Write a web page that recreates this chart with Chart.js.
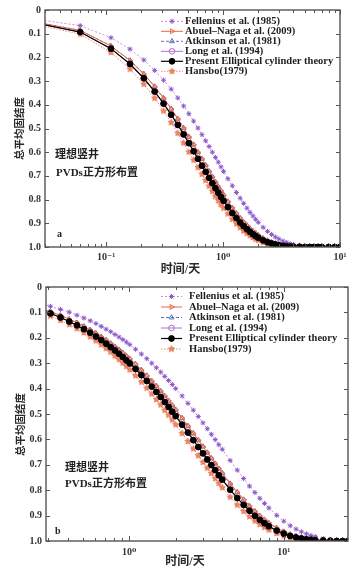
<!DOCTYPE html>
<html><head><meta charset="utf-8">
<script src="https://cdn.jsdelivr.net/npm/chart.js@4.4.0/dist/chart.umd.min.js"></script>
<style>
html,body{margin:0;padding:0;background:#fff;}
body{width:362px;height:576px;position:relative;overflow:hidden;}
canvas{position:absolute;left:0;}
#ca{top:0;}
#cb{top:276px;}
</style></head><body>
<canvas id="ca" width="362" height="280"></canvas>
<canvas id="cb" width="362" height="300"></canvas>
<script>
// ---------------- data ----------------
const seriesLabels = ['Fellenius et al. (1985)', 'Abuel\u2013Naga et al. (2009)', 'Atkinson et al. (1981)', 'Long et al. (1994)', 'Present Elliptical cylinder theory', 'Hansbo(1979)'];

const yTickValues = [0, 0.1, 0.2, 0.3, 0.4, 0.5, 0.6, 0.7, 0.8, 0.9, 1.0];
const yTickLabels = ['0', '0.1', '0.2', '0.3', '0.4', '0.5', '0.6', '0.7', '0.8', '0.9', '1.0'];

// chart a
const xTicksA = [0.1, 1, 10];
const xTickLabelsA = ['10\u207B\u00B9', '10\u2070', '10\u00B9'];
const xMinorA = [0.03, 0.04, 0.05, 0.06, 0.07, 0.08, 0.09, 0.2, 0.3, 0.4, 0.5, 0.6, 0.7, 0.8, 0.9, 2, 3, 4, 5, 6, 7, 8, 9];
const timeA = [0.01, 0.06, 0.11, 0.16, 0.21, 0.26, 0.31, 0.36, 0.41, 0.46, 0.51, 0.56, 0.61, 0.66, 0.71, 0.76, 0.81, 0.86, 0.91, 0.96, 1.01, 1.1, 1.2, 1.3, 1.4, 1.5, 1.6, 1.7, 1.8, 1.9, 2.0, 2.2, 2.4, 2.6, 2.8, 3.0, 3.25, 3.5, 3.75, 4, 4.5, 5, 5.5, 6, 6.5, 7, 8, 9, 10];
const felleniusA = [0.011, 0.066, 0.117, 0.165, 0.211, 0.255, 0.296, 0.334, 0.371, 0.405, 0.438, 0.469, 0.498, 0.526, 0.552, 0.576, 0.600, 0.622, 0.642, 0.662, 0.681, 0.712, 0.742, 0.770, 0.794, 0.816, 0.836, 0.854, 0.869, 0.883, 0.896, 0.917, 0.934, 0.947, 0.958, 0.966, 0.975, 0.981, 0.986, 0.989, 0.994, 0.997, 0.998, 0.999, 0.999, 1.000, 1.000, 1.000, 1.000];
const abuelA = [0.015, 0.086, 0.152, 0.213, 0.270, 0.323, 0.372, 0.417, 0.459, 0.498, 0.535, 0.568, 0.600, 0.628, 0.655, 0.680, 0.703, 0.725, 0.745, 0.763, 0.780, 0.808, 0.835, 0.858, 0.878, 0.895, 0.909, 0.922, 0.933, 0.942, 0.950, 0.963, 0.973, 0.980, 0.985, 0.989, 0.992, 0.995, 0.996, 0.998, 0.999, 0.999, 1.000, 1.000, 1.000, 1.000, 1.000, 1.000, 1.000];
const atkinsonA = [0.015, 0.086, 0.152, 0.213, 0.270, 0.323, 0.372, 0.417, 0.459, 0.498, 0.535, 0.568, 0.600, 0.628, 0.655, 0.680, 0.703, 0.725, 0.745, 0.763, 0.780, 0.808, 0.835, 0.858, 0.878, 0.895, 0.909, 0.922, 0.933, 0.942, 0.950, 0.963, 0.973, 0.980, 0.985, 0.989, 0.992, 0.995, 0.996, 0.998, 0.999, 0.999, 1.000, 1.000, 1.000, 1.000, 1.000, 1.000, 1.000];
const longA = [0.016, 0.093, 0.163, 0.228, 0.288, 0.344, 0.395, 0.442, 0.485, 0.525, 0.562, 0.596, 0.628, 0.657, 0.683, 0.708, 0.731, 0.752, 0.771, 0.789, 0.805, 0.832, 0.857, 0.878, 0.897, 0.912, 0.925, 0.936, 0.946, 0.954, 0.961, 0.972, 0.980, 0.985, 0.989, 0.992, 0.995, 0.997, 0.998, 0.999, 0.999, 1.000, 1.000, 1.000, 1.000, 1.000, 1.000, 1.000, 1.000];
const presentA = [0.016, 0.093, 0.163, 0.228, 0.288, 0.344, 0.395, 0.442, 0.485, 0.525, 0.562, 0.596, 0.628, 0.657, 0.683, 0.708, 0.731, 0.752, 0.771, 0.789, 0.805, 0.832, 0.857, 0.878, 0.897, 0.912, 0.925, 0.936, 0.946, 0.954, 0.961, 0.972, 0.980, 0.985, 0.989, 0.992, 0.995, 0.997, 0.998, 0.999, 0.999, 1.000, 1.000, 1.000, 1.000, 1.000, 1.000, 1.000, 1.000];
const hansboA = [0.018, 0.102, 0.179, 0.249, 0.313, 0.372, 0.426, 0.475, 0.520, 0.561, 0.599, 0.633, 0.664, 0.693, 0.719, 0.743, 0.765, 0.786, 0.804, 0.821, 0.836, 0.860, 0.883, 0.902, 0.918, 0.932, 0.943, 0.952, 0.960, 0.967, 0.972, 0.981, 0.986, 0.991, 0.993, 0.995, 0.997, 0.998, 0.999, 0.999, 1.000, 1.000, 1.000, 1.000, 1.000, 1.000, 1.000, 1.000, 1.000];

// chart b
const xTicksB = [1, 10];
const xTickLabelsB = ['10\u2070', '10\u00B9'];
const xMinorB = [0.3, 0.4, 0.5, 0.6, 0.7, 0.8, 0.9, 2, 3, 4, 5, 6, 7, 8, 9, 20];
const timeB = [0.21, 0.26, 0.31, 0.36, 0.41, 0.46, 0.51, 0.56, 0.61, 0.66, 0.71, 0.76, 0.81, 0.86, 0.91, 0.96, 1.01, 1.1, 1.2, 1.3, 1.4, 1.5, 1.6, 1.7, 1.8, 1.9, 2.0, 2.2, 2.4, 2.6, 2.8, 3.0, 3.2, 3.4, 3.6, 3.8, 4.0, 4.5, 5, 5.5, 6, 6.5, 7, 7.5, 8, 9, 10, 11, 12, 13, 14, 15, 16, 18, 20, 22, 24, 26];
const felleniusB = [0.052, 0.064, 0.076, 0.088, 0.099, 0.111, 0.122, 0.133, 0.144, 0.155, 0.166, 0.176, 0.187, 0.197, 0.207, 0.217, 0.227, 0.245, 0.264, 0.282, 0.300, 0.318, 0.335, 0.352, 0.368, 0.384, 0.400, 0.429, 0.458, 0.485, 0.510, 0.535, 0.558, 0.580, 0.601, 0.621, 0.639, 0.683, 0.721, 0.754, 0.784, 0.809, 0.832, 0.852, 0.870, 0.899, 0.922, 0.940, 0.953, 0.964, 0.972, 0.978, 0.983, 0.990, 0.994, 0.996, 0.998, 0.999];
const abuelB = [0.067, 0.082, 0.097, 0.112, 0.127, 0.141, 0.155, 0.169, 0.182, 0.196, 0.209, 0.222, 0.235, 0.247, 0.259, 0.272, 0.283, 0.304, 0.327, 0.349, 0.370, 0.390, 0.410, 0.429, 0.448, 0.466, 0.483, 0.516, 0.547, 0.576, 0.603, 0.628, 0.652, 0.674, 0.695, 0.715, 0.733, 0.774, 0.808, 0.837, 0.862, 0.883, 0.901, 0.916, 0.929, 0.949, 0.963, 0.974, 0.981, 0.986, 0.990, 0.993, 0.995, 0.997, 0.999, 0.999, 1.000, 1.000];
const atkinsonB = [0.067, 0.082, 0.097, 0.112, 0.127, 0.141, 0.155, 0.169, 0.182, 0.196, 0.209, 0.222, 0.235, 0.247, 0.259, 0.272, 0.283, 0.304, 0.327, 0.349, 0.370, 0.390, 0.410, 0.429, 0.448, 0.466, 0.483, 0.516, 0.547, 0.576, 0.603, 0.628, 0.652, 0.674, 0.695, 0.715, 0.733, 0.774, 0.808, 0.837, 0.862, 0.883, 0.901, 0.916, 0.929, 0.949, 0.963, 0.974, 0.981, 0.986, 0.990, 0.993, 0.995, 0.997, 0.999, 0.999, 1.000, 1.000];
const longB = [0.072, 0.088, 0.104, 0.120, 0.136, 0.151, 0.166, 0.180, 0.195, 0.209, 0.223, 0.237, 0.250, 0.263, 0.276, 0.289, 0.301, 0.323, 0.347, 0.370, 0.392, 0.413, 0.433, 0.453, 0.472, 0.491, 0.508, 0.542, 0.573, 0.603, 0.630, 0.655, 0.679, 0.701, 0.721, 0.741, 0.758, 0.798, 0.831, 0.858, 0.881, 0.901, 0.917, 0.930, 0.942, 0.959, 0.971, 0.980, 0.986, 0.990, 0.993, 0.995, 0.997, 0.998, 0.999, 1.000, 1.000, 1.000];
const presentB = [0.072, 0.088, 0.104, 0.120, 0.136, 0.151, 0.166, 0.180, 0.195, 0.209, 0.223, 0.237, 0.250, 0.263, 0.276, 0.289, 0.301, 0.323, 0.347, 0.370, 0.392, 0.413, 0.433, 0.453, 0.472, 0.491, 0.508, 0.542, 0.573, 0.603, 0.630, 0.655, 0.679, 0.701, 0.721, 0.741, 0.758, 0.798, 0.831, 0.858, 0.881, 0.901, 0.917, 0.930, 0.942, 0.959, 0.971, 0.980, 0.986, 0.990, 0.993, 0.995, 0.997, 0.998, 0.999, 1.000, 1.000, 1.000];
const hansboB = [0.079, 0.096, 0.114, 0.131, 0.148, 0.164, 0.180, 0.196, 0.212, 0.227, 0.242, 0.256, 0.271, 0.285, 0.299, 0.312, 0.326, 0.349, 0.374, 0.398, 0.421, 0.443, 0.464, 0.485, 0.504, 0.523, 0.542, 0.576, 0.608, 0.637, 0.664, 0.690, 0.713, 0.734, 0.754, 0.773, 0.790, 0.827, 0.858, 0.883, 0.904, 0.921, 0.935, 0.946, 0.956, 0.970, 0.980, 0.986, 0.991, 0.994, 0.996, 0.997, 0.998, 0.999, 1.000, 1.000, 1.000, 1.000];

// ---------------- styles ----------------
const serif = "'Liberation Serif','DejaVu Serif',serif";
const cjk = "'Liberation Serif','Noto Sans CJK SC',sans-serif";
function starImg(r, fill, stroke) {
  const c = document.createElement('canvas');
  const s = Math.ceil(2 * r + 2);
  c.width = s; c.height = s;
  const g = c.getContext('2d');
  g.beginPath();
  for (let k = 0; k < 10; k++) {
    const rr = k % 2 ? r * 0.45 : r;
    const ang = -Math.PI / 2 + k * Math.PI / 5;
    g.lineTo(s / 2 + rr * Math.cos(ang), s / 2 + rr * Math.sin(ang));
  }
  g.closePath();
  g.fillStyle = fill; g.fill();
  g.strokeStyle = stroke; g.lineWidth = 0.8; g.stroke();
  return c;
}
const hansboStar = starImg(3.2, '#f28a68', '#e4653f');
const styles = [
  {line: '#d08bd3', lw: 1, dash: [2, 2], ps: 'star', r: 2.5, pc: '#8a56cc', pf: '#8a56cc', pbw: 1, order: 3},
  {line: '#ec6843', lw: 1, dash: [], ps: 'triangle', rot: 90, r: 2.8, pc: '#ec6843', pf: 'rgba(255,255,255,0)', pbw: 1, order: 1},
  {line: '#5a6fc4', lw: 1, dash: [3, 2], ps: 'triangle', r: 2.8, pc: '#5a6fc4', pf: 'rgba(255,255,255,0)', pbw: 1, order: 5},
  {line: '#b072cc', lw: 1, dash: [], ps: 'circle', r: 2.8, pc: '#b072cc', pf: 'rgba(255,255,255,0)', pbw: 1, order: 4},
  {line: '#000000', lw: 1.2, dash: [], ps: 'circle', r: 2.9, pc: '#000000', pf: '#000000', pbw: 1, order: 0},
  {line: '#f0886a', lw: 1, dash: [1.5, 1.5], ps: hansboStar, r: 3.2, pc: '#e4653f', pf: '#f28a68', pbw: 0.8, order: 2}
];

function makeDeco(cfg) {
  return {
    id: 'deco',
    afterDatasetsDraw(chart) {
      const {ctx, chartArea: a, scales: {x, y}} = chart;
      ctx.save();
      ctx.strokeStyle = '#555';
      ctx.lineWidth = 1;
      ctx.beginPath();
      y.ticks.forEach(t => {
        const py = Math.round(y.getPixelForValue(t.value)) + 0.5;
        ctx.moveTo(a.left, py); ctx.lineTo(a.left + 4, py);
        ctx.moveTo(a.right, py); ctx.lineTo(a.right - 4, py);
      });
      cfg.xMajor.forEach(v => {
        const px = Math.round(x.getPixelForValue(v)) + 0.5;
        ctx.moveTo(px, a.bottom); ctx.lineTo(px, a.bottom - 5);
        ctx.moveTo(px, a.top); ctx.lineTo(px, a.top + 5);
      });
      cfg.xMinor.forEach(v => {
        const px = Math.round(x.getPixelForValue(v)) + 0.5;
        ctx.moveTo(px, a.bottom); ctx.lineTo(px, a.bottom - 3);
        ctx.moveTo(px, a.top); ctx.lineTo(px, a.top + 3);
      });
      ctx.stroke();
      ctx.lineWidth = 1.4;
      ctx.strokeStyle = '#555';
      ctx.strokeRect(a.left, a.top, a.right - a.left, a.bottom - a.top);
      ctx.restore();
    },
    afterDraw(chart) {
      const ctx = chart.ctx;
      const L = cfg.legend;
      chart.data.datasets.forEach((d, i) => {
        const yy = L.y0 + i * L.dy;
        ctx.save();
        ctx.strokeStyle = d.borderColor;
        ctx.lineWidth = d.borderWidth;
        ctx.setLineDash(d.borderDash || []);
        ctx.beginPath(); ctx.moveTo(L.x0, yy); ctx.lineTo(L.x1, yy); ctx.stroke();
        ctx.setLineDash([]);
        ctx.fillStyle = d.pointBackgroundColor;
        ctx.strokeStyle = d.pointBorderColor;
        ctx.lineWidth = d.pointBorderWidth;
        const mx = (L.x0 + L.x1) / 2;
        if (Chart.helpers && Chart.helpers.drawPoint) {
          Chart.helpers.drawPoint(ctx, {pointStyle: d.pointStyle, rotation: d.pointRotation || 0, radius: d.pointRadius, borderWidth: d.pointBorderWidth}, mx, yy);
        }
        ctx.fillStyle = '#1e1e1e';
        ctx.font = 'bold 10.5px ' + serif;
        ctx.textBaseline = 'middle';
        ctx.textAlign = 'left';
        ctx.fillText(d.label, L.tx, yy);
        ctx.restore();
      });
      ctx.save();
      ctx.fillStyle = '#222';
      ctx.textBaseline = 'middle';
      ctx.textAlign = 'left';
      cfg.notes.forEach(n => {
        ctx.font = n.font;
        ctx.fillText(n.text, n.x, n.y);
      });
      ctx.restore();
    }
  };
}

function makeChart(id, cfg) {
  const datasets = seriesLabels.map((lab, i) => {
    const st = styles[i];
    return {
      label: lab,
      data: cfg.times.map((t, k) => ({x: t, y: cfg.series[i][k]})),
      borderColor: st.line, borderWidth: st.lw, borderDash: st.dash,
      pointStyle: st.ps, pointRotation: st.rot || 0, pointRadius: st.r,
      pointBorderColor: st.pc, pointBackgroundColor: st.pf, pointBorderWidth: st.pbw,
      pointHoverRadius: st.r, order: st.order, fill: false, tension: 0
    };
  });
  const tickFont = {family: serif, weight: 'bold', size: 10};
  return new Chart(document.getElementById(id), {
    type: 'line',
    data: {datasets},
    options: {
      responsive: false, animation: false, devicePixelRatio: 1, events: [],
      layout: {padding: cfg.pad},
      plugins: {legend: {display: false}, tooltip: {enabled: false}},
      scales: {
        x: {
          type: 'logarithmic', min: cfg.xmin, max: cfg.xmax,
          afterBuildTicks: s => { s.ticks = cfg.xMajor.map(v => ({value: v, major: true})); },
          afterFit: s => { s.height = cfg.xh; },
          grid: {display: false, drawTicks: false}, border: {display: false},
          ticks: {callback: (v, i) => cfg.xLabels[i], autoSkip: false, maxRotation: 0, minRotation: 0, padding: cfg.xpad, color: '#333', font: tickFont},
          title: {display: true, text: cfg.xTitle, color: '#2a2a2a', font: {family: cjk, weight: 'bold', size: 12}, padding: {top: 0, bottom: cfg.xtpb}}
        },
        y: {
          type: 'linear', reverse: true, min: 0, max: 1,
          afterBuildTicks: s => { s.ticks = yTickValues.map(v => ({value: v})); },
          afterFit: s => { s.width = cfg.yw; },
          grid: {display: false, drawTicks: false}, border: {display: false},
          ticks: {callback: (v, i) => yTickLabels[i], autoSkip: false, padding: 4, color: '#333', font: tickFont},
          title: {display: true, text: cfg.yTitle, color: '#2a2a2a', font: {family: cjk, weight: 'bold', size: 10.5}, padding: {top: cfg.ytpt, bottom: 0}}
        }
      }
    },
    plugins: [makeDeco(cfg)]
  });
}

makeChart('ca', {
  times: timeA,
  series: [felleniusA, abuelA, atkinsonA, longA, presentA, hansboA],
  xmin: 0.03, xmax: 10, xMajor: xTicksA, xLabels: xTickLabelsA, xMinor: xMinorA,
  pad: {top: 8, right: 22, bottom: 0, left: 0},
  yw: 45, xh: 33, xpad: 4, xtpb: 2.8, ytpt: 14.4,
  xTitle: '时间/天\u3000\u3000', yTitle: '总平均固结度',
  legend: {x0: 161, x1: 183, tx: 185, y0: 21.3, dy: 10},
  notes: [
    {text: '理想竖井', x: 55, y: 155, font: 'bold 11px ' + cjk},
    {text: 'PVDs正方形布置', x: 56, y: 173, font: 'bold 11px ' + cjk},
    {text: 'a', x: 57, y: 234, font: 'bold 10px ' + serif}
  ]
});

makeChart('cb', {
  times: timeB,
  series: [felleniusB, abuelB, atkinsonB, longB, presentB, hansboB],
  xmin: 0.29, xmax: 26, xMajor: xTicksB, xLabels: xTickLabelsB, xMinor: xMinorB,
  pad: {top: 11, right: 14, bottom: 0, left: 0},
  yw: 46, xh: 35, xpad: 5, xtpb: 6.8, ytpt: 14.7,
  xTitle: '时间/天\u3000\u3000', yTitle: '总平均固结度\u3000\u3000',
  legend: {x0: 161, x1: 182, tx: 189, y0: 20.5, dy: 10.5},
  notes: [
    {text: '理想竖井', x: 65, y: 191.7, font: 'bold 11px ' + cjk},
    {text: 'PVDs正方形布置', x: 65, y: 208, font: 'bold 11px ' + cjk},
    {text: 'b', x: 55, y: 255.7, font: 'bold 10px ' + serif}
  ]
});
</script>
</body></html>
